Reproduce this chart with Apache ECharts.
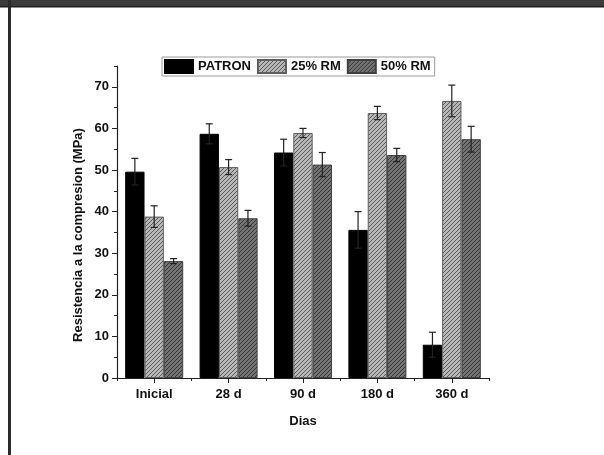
<!DOCTYPE html>
<html>
<head>
<meta charset="utf-8">
<script src="https://cdn.jsdelivr.net/npm/echarts@6/dist/echarts.min.js"></script>
<style>
html,body{margin:0;padding:0;background:#fff;}
#chart{width:604px;height:455px;}
</style>
</head>
<body>
<div id="chart"></div>
<script>
const categories = ['Inicial', '28 d', '90 d', '180 d', '360 d'];
const seriesNames = ['PATRON', '25% RM', '50% RM'];
const patronValues = [49.6, 58.7, 54.2, 35.6, 8.0];
const patronErrors = [3.2, 2.4, 3.2, 4.4, 3.0];
const rm25Values = [38.8, 50.7, 58.9, 63.7, 66.6];
const rm25Errors = [2.6, 1.8, 1.1, 1.6, 3.8];
const rm50Values = [28.1, 38.4, 51.3, 53.6, 57.4];
const rm50Errors = [0.6, 1.9, 2.9, 1.6, 3.1];
const yLabelValues = [0, 10, 20, 30, 40, 50, 60, 70];

function hatch(bg, line) {
  const c = document.createElement('canvas');
  c.width = 4; c.height = 4;
  const ctx = c.getContext('2d');
  ctx.fillStyle = bg; ctx.fillRect(0, 0, 4, 4);
  ctx.strokeStyle = line; ctx.lineWidth = 1;
  ctx.beginPath();
  ctx.moveTo(-1, 5); ctx.lineTo(5, -1);
  ctx.moveTo(-3, 3); ctx.lineTo(3, -3);
  ctx.moveTo(1, 7); ctx.lineTo(7, 1);
  ctx.stroke();
  return { image: c, repeat: 'repeat' };
}

const fills = ['#000000', hatch('#b8b8b8', '#5a5a5a'), hatch('#747474', '#343434')];
const borders = ['#000000', '#5e5e5e', '#404040'];
const allValues = [patronValues, rm25Values, rm50Values];
const allErrors = [patronErrors, rm25Errors, rm50Errors];

const GAP = 0.22;
const font = '"Liberation Sans", Arial, sans-serif';

const series = [];
seriesNames.forEach((name, k) => {
  series.push({
    name: name,
    type: 'bar',
    xAxisIndex: 0, yAxisIndex: 0,
    barGap: '0%',
    barCategoryGap: (GAP * 100) + '%',
    itemStyle: { color: fills[k], borderColor: borders[k], borderWidth: 1 },
    data: allValues[k],
    z: 2
  });
});
seriesNames.forEach((name, k) => {
  series.push({
    name: name + ' err',
    type: 'custom',
    xAxisIndex: 0, yAxisIndex: 0,
    z: 5,
    encode: { x: 0, y: 1 },
    data: allValues[k].map((v, i) => [i, v, allErrors[k][i]]),
    renderItem: function (params, api) {
      const i = api.value(0), v = api.value(1), e = api.value(2);
      const band = api.size([1, 0])[0];
      const bw = band * (1 - GAP) / 3;
      const c = api.coord([i, v]);
      const x = c[0] + (k - 1) * bw;
      const top = api.coord([i, v + e])[1];
      const bot = api.coord([i, v - e])[1];
      const hw = 3.5;
      const st = { stroke: '#222', lineWidth: 1.2 };
      return {
        type: 'group',
        children: [
          { type: 'line', shape: { x1: x, y1: top, x2: x, y2: bot }, style: st },
          { type: 'line', shape: { x1: x - hw, y1: top, x2: x + hw, y2: top }, style: st },
          { type: 'line', shape: { x1: x - hw, y1: bot, x2: x + hw, y2: bot }, style: st }
        ]
      };
    }
  });
});

const chart = echarts.init(document.getElementById('chart'), null, { renderer: 'canvas' });
chart.setOption({
  backgroundColor: '#ffffff',
  animation: false,
  graphic: [
    { type: 'rect', shape: { x: 0, y: 0, width: 604, height: 7 }, style: { fill: '#3b3b3b' }, z: 100 },
    { type: 'rect', shape: { x: 0, y: 6, width: 604, height: 1.5 }, style: { fill: '#1e1e1e' }, z: 100 },
    { type: 'rect', shape: { x: 8, y: 0, width: 3, height: 455 }, style: { fill: '#2a2a2a' }, z: 100 },
    {
      type: 'text', x: 78, y: 235, rotation: Math.PI / 2,
      style: {
        text: 'Resistencia a la compresion (MPa)',
        font: 'bold 13px ' + font, fill: '#111',
        align: 'center', verticalAlign: 'middle'
      }
    }
  ],
  legend: {
    data: seriesNames,
    left: 162, top: 57,
    icon: 'rect',
    itemWidth: 28, itemHeight: 13,
    itemGap: 6,
    padding: [2, 4, 2, 2],
    borderColor: '#9a9a9a', borderWidth: 1,
    textStyle: { fontFamily: font, fontWeight: 'bold', fontSize: 13, color: '#111' }
  },
  grid: { left: 117, right: 115, top: 66, bottom: 77, containLabel: false },
  xAxis: [
    {
      type: 'category', data: categories, position: 'bottom',
      axisLine: { show: true, lineStyle: { color: '#222', width: 1.2 } },
      axisTick: { show: true, length: 3, lineStyle: { color: '#222' } },
      axisLabel: { margin: 10, fontFamily: font, fontWeight: 'bold', fontSize: 13, color: '#111' },
      name: 'Dias', nameLocation: 'middle', nameGap: 37,
      nameTextStyle: { fontFamily: font, fontWeight: 'bold', fontSize: 13, color: '#111' },
      splitLine: { show: false }
    },
    {
      type: 'category', data: categories, position: 'bottom',
      axisLine: { show: false },
      axisTick: { show: true, alignWithLabel: true, length: 5, lineStyle: { color: '#222' } },
      axisLabel: { show: false },
      splitLine: { show: false }
    }
  ],
  yAxis: [
    {
      type: 'value', min: 0, max: 75, interval: 5, position: 'left',
      axisLine: { show: true, lineStyle: { color: '#222', width: 1.2 } },
      axisTick: { show: true, length: 3, lineStyle: { color: '#222' } },
      axisLabel: { show: false },
      splitLine: { show: false }
    },
    {
      type: 'value', min: 0, max: 75, interval: 10, position: 'left', offset: 0,
      axisLine: { show: false },
      axisTick: { show: true, length: 5, customValues: yLabelValues, lineStyle: { color: '#222' } },
      axisLabel: { customValues: yLabelValues, margin: 8, fontFamily: font, fontWeight: 'bold', fontSize: 13, color: '#111' },
      splitLine: { show: false }
    }
  ],
  series: series
});
</script>
</body>
</html>
